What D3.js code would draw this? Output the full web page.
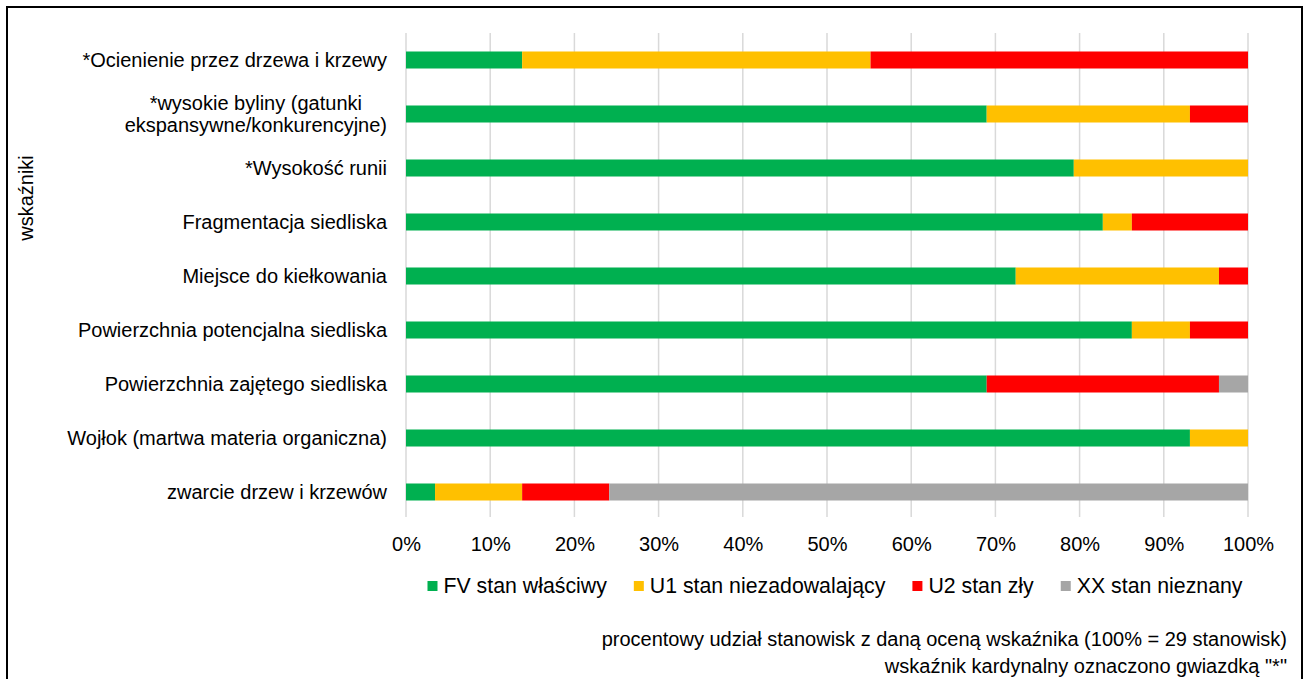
<!DOCTYPE html>
<html>
<head>
<meta charset="utf-8">
<script src="https://cdn.jsdelivr.net/npm/d3@7/dist/d3.min.js"></script>
<style>
  html, body { margin: 0; padding: 0; background: #fff; }
  svg { display: block; }
  text { font-family: "Liberation Sans", Arial, sans-serif; fill: #000; }
</style>
</head>
<body>
<svg id="chart" width="1305" height="679"></svg>
<script>
// Indicators (top to bottom); "\n" splits a label over two lines
const categories = [
  "*Ocienienie przez drzewa i krzewy",
  "*wysokie byliny (gatunki\nekspansywne/konkurencyjne)",
  "*Wysokość runii",
  "Fragmentacja siedliska",
  "Miejsce do kiełkowania",
  "Powierzchnia potencjalna siedliska",
  "Powierzchnia zajętego siedliska",
  "Wojłok (martwa materia organiczna)",
  "zwarcie drzew i krzewów"
];

// Number of sites per assessment (29 sites in total)
const FV = [4, 20, 23, 24, 21, 25, 20, 27, 1];
const U1 = [12, 7, 6, 1, 7, 2, 0, 2, 3];
const U2 = [13, 2, 0, 4, 1, 2, 8, 0, 3];
const XX = [0, 0, 0, 0, 0, 0, 1, 0, 22];

const seriesNames = ["FV stan właściwy", "U1 stan niezadowalający", "U2 stan zły", "XX stan nieznany"];
const seriesColors = ["#00B050", "#FFC000", "#FF0000", "#A6A6A6"];
const tickValues = [0, 0.1, 0.2, 0.3, 0.4, 0.5, 0.6, 0.7, 0.8, 0.9, 1.0];

const totalSites = 29;
const axisTitle = "wskaźniki";
const notes = [
  "procentowy udział stanowisk z daną oceną wskaźnika (100% = 29 stanowisk)",
  "wskaźnik kardynalny oznaczono gwiazdką \"*\""
];

const FS = 20;        // labels, ticks, notes
const FS_LEG = 21.3;  // legend entries
const svg = d3.select("#chart");
const W = 1305, H = 679;

// outer frame
svg.append("rect")
  .attr("x", 7).attr("y", 7).attr("width", W - 10).attr("height", H)
  .attr("fill", "#fff").attr("stroke", "#000").attr("stroke-width", 2);

const plot = { left: 406, right: 1248, top: 33, bottom: 519 };

const x = d3.scaleLinear().domain([0, 1]).range([plot.left, plot.right]);
const y = d3.scaleBand().domain(d3.range(categories.length))
  .range([plot.top, plot.bottom]).paddingInner(0.685).paddingOuter(0.3425);

// rows as shares of all sites, stacked
const rows = categories.map((c, i) => ({
  FV: FV[i] / totalSites, U1: U1[i] / totalSites, U2: U2[i] / totalSites, XX: XX[i] / totalSites, idx: i
}));
const keys = ["FV", "U1", "U2", "XX"];
const stacked = d3.stack().keys(keys)(rows);

// vertical gridlines
svg.append("g")
  .selectAll("line").data(tickValues).join("line")
  .attr("x1", d => x(d)).attr("x2", d => x(d))
  .attr("y1", plot.top).attr("y2", plot.bottom - 2)
  .attr("stroke", "#D9D9D9").attr("stroke-width", 1.5);

// bars
svg.append("g").selectAll("g").data(stacked).join("g")
  .attr("fill", (d, i) => seriesColors[i])
  .selectAll("rect").data(d => d).join("rect")
  .attr("x", d => x(d[0]))
  .attr("width", d => Math.max(0, x(d[1]) - x(d[0])))
  .attr("y", d => y(d.data.idx))
  .attr("height", y.bandwidth());

// x axis tick labels
const xAxis = d3.axisBottom(x).tickValues(tickValues)
  .tickFormat(d3.format(".0%")).tickSize(0).tickPadding(0);
const gx = svg.append("g").attr("transform", `translate(0, ${plot.bottom + 18})`).call(xAxis);
gx.select(".domain").remove();
gx.selectAll("text")
  .attr("font-size", FS).attr("font-family", "Liberation Sans, Arial, sans-serif")
  .attr("fill", "#000");

// category labels
const labelRight = 387;
const gy = svg.append("g");
categories.forEach((c, i) => {
  const lines = c.split("\n");
  const cy = y(i) + y.bandwidth() / 2;
  const t = gy.append("text").attr("font-size", FS);
  if (lines.length === 1) {
    t.attr("x", labelRight).attr("y", cy).attr("dy", "0.35em")
      .attr("text-anchor", "end").text(lines[0]);
  } else {
    // measure the widest line, then center the block against the right edge
    const probe = gy.append("text").attr("font-size", FS);
    const widths = lines.map(l => { probe.text(l); return probe.node().getComputedTextLength(); });
    probe.remove();
    const cx = labelRight - d3.max(widths) / 2;
    const lh = 22;
    t.attr("text-anchor", "middle");
    lines.forEach((l, k) => {
      t.append("tspan").attr("x", cx)
        .attr("y", cy + (k - (lines.length - 1) / 2) * lh)
        .attr("dy", "0.35em").text(l);
    });
  }
});

// y axis title
svg.append("text")
  .attr("transform", "translate(33, 198) rotate(-90)")
  .attr("text-anchor", "middle").attr("font-size", FS)
  .text(axisTitle);

// legend
const legend = svg.append("g");
const legY = 586, sq = 10, gapSq = 6, gapItem = 27;
const probe = legend.append("text").attr("font-size", FS_LEG);
const lw = seriesNames.map(s => { probe.text(s); return probe.node().getComputedTextLength(); });
probe.remove();
const totalW = d3.sum(lw) + seriesNames.length * (sq + gapSq) + (seriesNames.length - 1) * gapItem;
let lx = 835 - totalW / 2;
seriesNames.forEach((s, i) => {
  legend.append("rect").attr("x", lx).attr("y", legY - sq / 2)
    .attr("width", sq).attr("height", sq).attr("fill", seriesColors[i]);
  legend.append("text").attr("x", lx + sq + gapSq).attr("y", legY).attr("dy", "0.35em")
    .attr("font-size", FS_LEG).text(s);
  lx += sq + gapSq + lw[i] + gapItem;
});

// footnotes
notes.forEach((n, i) => {
  svg.append("text").attr("x", 1287).attr("y", 639 + i * 27).attr("dy", "0.35em")
    .attr("text-anchor", "end").attr("font-size", FS).text(n);
});
</script>
</body>
</html>
